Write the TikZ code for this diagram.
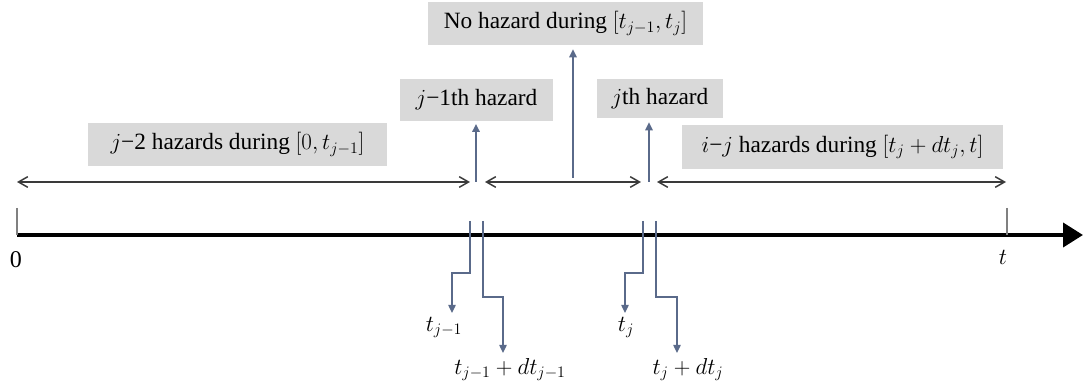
\documentclass[tikz,border=0pt]{standalone}
\usepackage{fontspec}
\setmainfont{Liberation Serif}
\usetikzlibrary{arrows.meta}
\definecolor{boxgray}{HTML}{D9D9D9}
\definecolor{bluegray}{HTML}{5A6A8A}
\definecolor{darkline}{HTML}{3A3A3A}
\tikzset{
  hbox/.style={fill=boxgray, draw=none, inner sep=0pt, font=\fontsize{17.5}{20}\selectfont},
  lab/.style={inner sep=0pt, font=\fontsize{18}{20}\selectfont},
  span/.style={darkline, line width=1.1pt, {Straight Barb[length=7pt,width=8pt]}-{Straight Barb[length=7pt,width=8pt]}},
  uparr/.style={bluegray, line width=1.5pt, -{Triangle[length=6pt,width=5.5pt]}},
  conn/.style={bluegray, line width=1pt, -{Triangle[length=6pt,width=5.5pt]}},
  tick/.style={gray, line width=0.8pt},
  axis/.style={black, line width=3pt, -{Triangle[length=15pt,width=18pt]}}
}
\begin{document}
\begin{tikzpicture}[x=0.75pt,y=-0.75pt]
\useasboundingbox (0,0) rectangle (1083,388);
% boxes
\node[hbox, minimum width=299*0.75pt, minimum height=43*0.75pt] (b1) at (237.5,144.5) {$j$−2 hazards during $\bigl[0,t_{j-1}\bigr]$};
\node[hbox, minimum width=153*0.75pt, minimum height=42*0.75pt] (b2) at (476.5,100) {$j$−1th hazard};
\node[hbox, minimum width=275*0.75pt, minimum height=43*0.75pt] (b3) at (565.5,23.5) {No hazard during $\bigl[t_{j-1},t_j\bigr]$};
\node[hbox, minimum width=126*0.75pt, minimum height=39*0.75pt] (b4) at (660,98.5) {$j$th hazard};
\node[hbox, minimum width=321*0.75pt, minimum height=44*0.75pt] (b5) at (842.5,147) {$i$−$j$ hazards during $\bigl[t_j+dt_j,t\bigr]$};
% axis
\coordinate (o) at (17,235);
\coordinate (tend) at (1083,235);
\draw[axis] (o) -- (tend);
\coordinate (o0) at (17,208);
\coordinate (t0) at (1007,208);
\coordinate (t1) at (1007,235);
\draw[tick] (o0) -- (o);
\draw[tick] (t0) -- (t1);
\node[lab] (zero) at (16,260) {0};
\node[lab] (tl) at (1003,257) {$t$};
% spans
\coordinate (s1a) at (17,182); \coordinate (s1b) at (470,182);
\coordinate (s2a) at (485,182); \coordinate (s2b) at (641,182);
\coordinate (s3a) at (657,182); \coordinate (s3b) at (1006,182);
\draw[span] (s1a) -- (s1b);
\draw[span] (s2a) -- (s2b);
\draw[span] (s3a) -- (s3b);
% up arrows
\coordinate (u1) at (476,182);
\coordinate (u2) at (573,178);
\coordinate (u3) at (649,182);
\draw[uparr] (u1) -- ([yshift=-2pt]b2.south -| u1);
\draw[uparr] (u2) -- ([yshift=-3pt]b3.south -| u2);
\draw[uparr] (u3) -- ([yshift=-3pt]b4.south -| u3);
% lower ticks and connectors
\coordinate (k1) at (470,221);
\coordinate (k2) at (483,221);
\coordinate (k3) at (643,221);
\coordinate (k4) at (656,221);
\coordinate (e1) at (452,313);
\coordinate (e2) at (503,353);
\coordinate (e3) at (625,313);
\coordinate (e4) at (677,353);
\node[lab, anchor=north] (l1) at (444,317) {$t_{j-1}$};
\node[lab, anchor=north] (l2) at (510,358) {$t_{j-1}+dt_{j-1}$};
\node[lab, anchor=north] (l3) at (626,317) {$t_j$};
\node[lab, anchor=north] (l4) at (688,358) {$t_j+dt_j$};
\draw[conn] (k1) -- (470,273) -| (e1);
\draw[conn] (k2) -- (483,297) -| (e2);
\draw[conn] (k3) -- (643,273) -| (e3);
\draw[conn] (k4) -- (656,297) -| (e4);
\end{tikzpicture}
\end{document}
